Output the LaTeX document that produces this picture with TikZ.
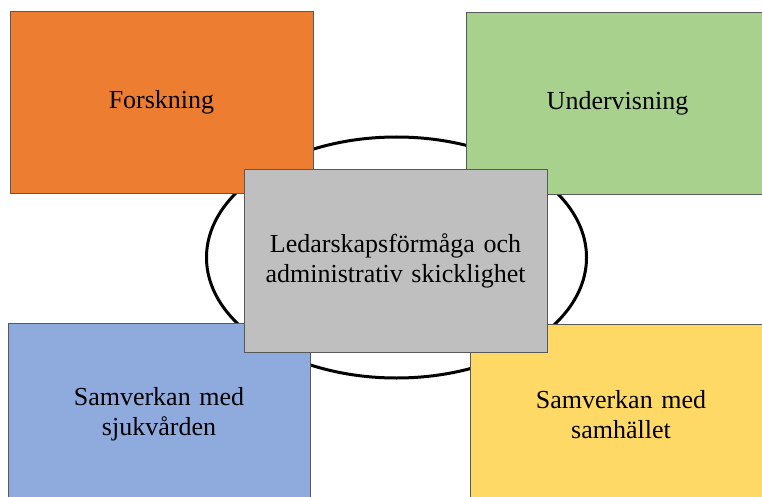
\documentclass[tikz,border=0pt]{standalone}
\usepackage{fontspec}
\setmainfont{Liberation Serif}
\definecolor{orangebox}{HTML}{ED7D31}
\definecolor{greenbox}{HTML}{A9D18E}
\definecolor{graybox}{HTML}{BFBFBF}
\definecolor{bluebox}{HTML}{8FAADC}
\definecolor{yellowbox}{HTML}{FFD966}
\definecolor{boxline}{HTML}{595959}
\newcommand{\bx}{\fontsize{26}{30}\selectfont}

\begin{document}
\begin{tikzpicture}[x=1pt,y=-1pt,
   area/.style={draw=boxline,line width=0.9pt,inner sep=0pt,minimum width=303pt,
                minimum height=182pt,text width=280pt,align=center,font=\bx}]
   \useasboundingbox (0,0) rectangle (762,497);
   \draw[line width=3pt] (396.5,257.5) ellipse (190pt and 120.5pt);
   \node[area,fill=orangebox] (forsk) at (161.5,102.5) {Forskning};
   \node[area,fill=greenbox] (underv) at (617.5,103) {Undervisning};
   \node[area,fill=bluebox,minimum width=302pt] (sjukv) at (159,414) {Samverkan med\\sjukvården};
   \node[area,fill=yellowbox,minimum width=302pt] (samh) at (621,415) {Samverkan med\\samhället};
   \node[area,fill=graybox,minimum height=183pt] (ledar) at (395.5,260.5)
      {Ledarskapsförmåga och\\administrativ skicklighet};
\end{tikzpicture}
\end{document}
